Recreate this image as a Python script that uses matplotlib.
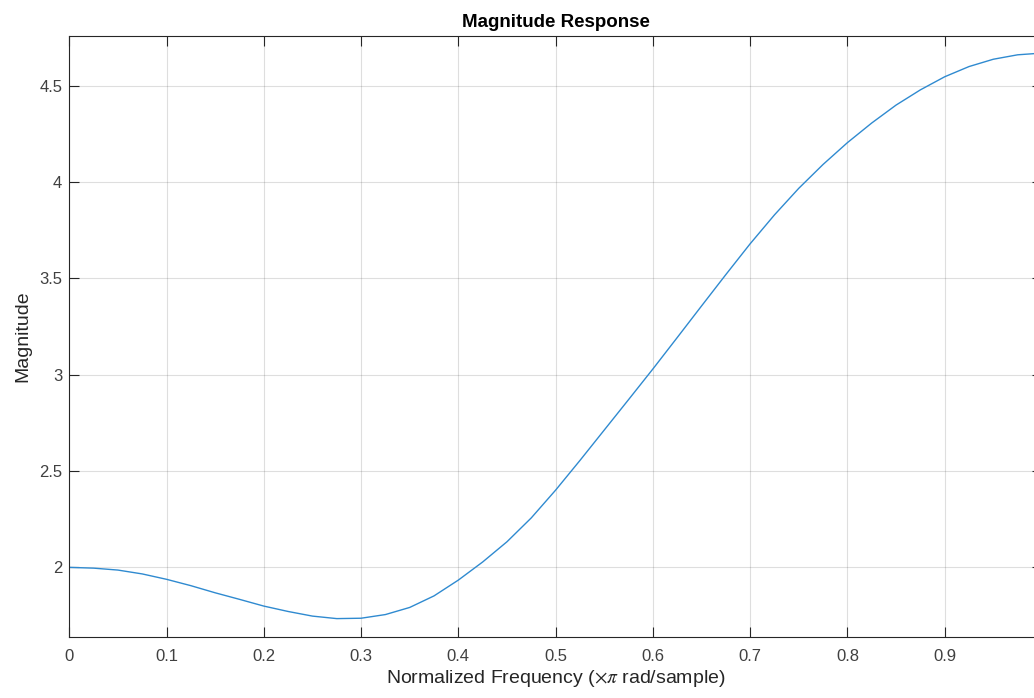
import numpy as np
import matplotlib
matplotlib.use("Agg")
import matplotlib.pyplot as plt

# values (normalized frequency, magnitude)
freq = [0.0, 0.025, 0.05, 0.075, 0.1, 0.125, 0.15, 0.175, 0.2, 0.225,
        0.25, 0.275, 0.3, 0.325, 0.35, 0.375, 0.4, 0.425, 0.45, 0.475,
        0.5, 0.525, 0.55, 0.575, 0.6, 0.625, 0.65, 0.675, 0.7, 0.725,
        0.75, 0.775, 0.8, 0.825, 0.85, 0.875, 0.9, 0.925, 0.95, 0.975, 1.0]
mag = [2.000, 1.996, 1.986, 1.966, 1.938, 1.905, 1.868, 1.834, 1.799, 1.771,
       1.747, 1.734, 1.736, 1.755, 1.792, 1.852, 1.934, 2.028, 2.133, 2.257,
       2.401, 2.555, 2.713, 2.871, 3.030, 3.193, 3.357, 3.520, 3.680, 3.830,
       3.968, 4.092, 4.205, 4.307, 4.400, 4.479, 4.547, 4.600, 4.638, 4.661, 4.670]

xticks = [0, 0.1, 0.2, 0.3, 0.4, 0.5, 0.6, 0.7, 0.8, 0.9, 1.0]
xtick_labels = ['0', '0.1', '0.2', '0.3', '0.4', '0.5', '0.6', '0.7', '0.8', '0.9', '']
yticks = [2, 2.5, 3, 3.5, 4, 4.5]
ytick_labels = ['2', '2.5', '3', '3.5', '4', '4.5']

plt.rcParams['font.family'] = ['Liberation Sans', 'DejaVu Sans']
plt.rcParams['mathtext.fontset'] = 'stix'

fig = plt.figure(figsize=(10.34, 6.98), dpi=100)
# right edge of the axes runs past the picture, as in the reference
ax = fig.add_axes([0.067, 0.0878, 0.9407, 0.861])

ax.plot(freq, mag, color='#2f8ad0', lw=1.0)

ax.set_xlim(0, 1)
ax.set_ylim(1.64, 4.76)
ax.set_xticks(xticks)
ax.set_xticklabels(xtick_labels)
ax.set_yticks(yticks)
ax.set_yticklabels(ytick_labels)

ax.grid(True, color='#262626', alpha=0.15, lw=0.8)
ax.tick_params(direction='in', length=7, width=0.8, colors='#262626',
               labelcolor='#404040', labelsize=12, top=True, right=True)
ax.tick_params(axis='x', pad=9)
ax.tick_params(axis='y', pad=5)
for sp in ax.spines.values():
    sp.set_color('#262626')
    sp.set_linewidth(0.8)

ax.set_title('Magnitude Response', fontsize=13.5, fontweight='bold', color='black', pad=6)
ax.set_xlabel(r'Normalized Frequency ($\times\pi$ rad/sample)', fontsize=14, color='#262626', labelpad=3)
ax.set_ylabel('Magnitude', fontsize=14, color='#262626', labelpad=6)

fig.savefig('out.png', dpi=100)
